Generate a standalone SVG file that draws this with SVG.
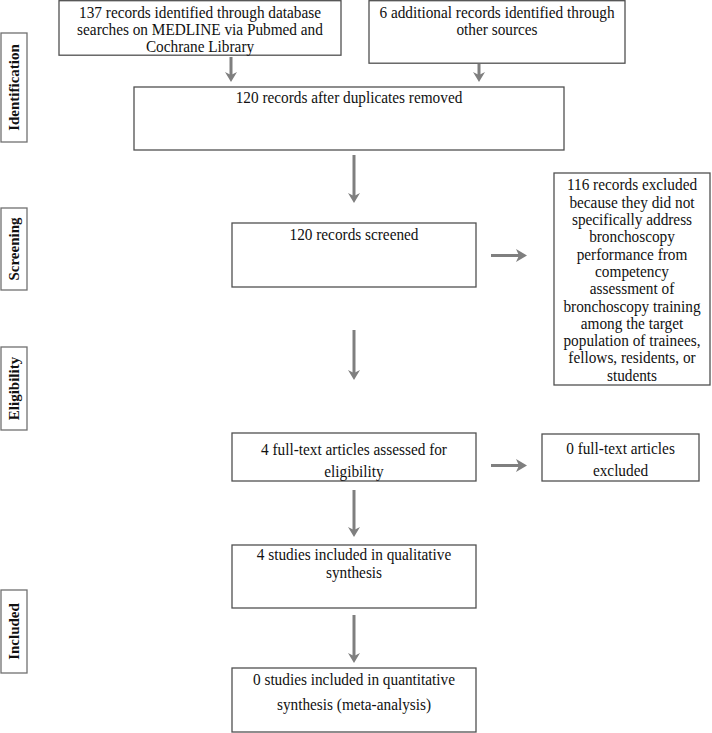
<svg xmlns="http://www.w3.org/2000/svg" width="712" height="733" viewBox="0 0 712 733">
<defs>
<style>
.box{fill:#fff;stroke:#505050;stroke-width:1.3}
.lbl{fill:#fff;stroke:#707070;stroke-width:1.3}
.t{font-family:"Liberation Serif","Times New Roman",serif;font-size:17px;fill:#111;text-anchor:middle}
.b{font-family:"Liberation Serif","Times New Roman",serif;font-size:15px;font-weight:bold;fill:#111;text-anchor:middle}
.arr{stroke:#7f7f7f;stroke-width:3;fill:none}
.harr{stroke:#7f7f7f;stroke-width:4;fill:none}
.head{fill:#7f7f7f}
</style>
</defs>
<g id="label-identification"><rect class="lbl" x="1" y="33" width="26" height="109"/><text class="b" transform="translate(19,87.5) rotate(-90)">Identification</text></g>
<g id="label-screening"><rect class="lbl" x="1" y="208" width="26" height="82"/><text class="b" transform="translate(19,249) rotate(-90)">Screening</text></g>
<g id="label-eligibility"><rect class="lbl" x="1" y="347" width="26" height="83"/><text class="b" transform="translate(19,388.5) rotate(-90)">Eligibility</text></g>
<g id="label-included"><rect class="lbl" x="1" y="590" width="26" height="83"/><text class="b" transform="translate(19,631.5) rotate(-90)">Included</text></g>

<g id="n1"><rect class="box" x="59" y="0.7" width="282" height="54.5"/>
<text class="t" transform="matrix(.9 0 0 1 200 0)" x="0" y="18.5">137 records identified through database</text>
<text class="t" transform="matrix(.9 0 0 1 200 0)" x="0" y="35">searches on MEDLINE via Pubmed and</text>
<text class="t" transform="matrix(.9 0 0 1 200 0)" x="0" y="52">Cochrane Library</text></g>
<g id="n2"><rect class="box" x="369" y="0.7" width="256" height="62.5"/>
<text class="t" transform="matrix(.9 0 0 1 497 0)" x="0" y="18.5">6 additional records identified through</text>
<text class="t" transform="matrix(.9 0 0 1 497 0)" x="0" y="35">other sources</text></g>
<g id="n3"><rect class="box" x="134" y="87" width="430" height="63"/>
<text class="t" transform="matrix(.9 0 0 1 349 0)" x="0" y="103.5">120 records after duplicates removed</text></g>
<g id="n4"><rect class="box" x="232" y="223" width="244" height="64"/>
<text class="t" transform="matrix(.9 0 0 1 354 0)" x="0" y="240.5">120 records screened</text></g>
<g id="n5"><rect class="box" x="554" y="173" width="156" height="212"/>
<text class="t" transform="matrix(.9 0 0 1 632 0)" x="0" y="190.5">116 records excluded</text>
<text class="t" transform="matrix(.9 0 0 1 632 0)" x="0" y="207.8">because they did not</text>
<text class="t" transform="matrix(.9 0 0 1 632 0)" x="0" y="225.1">specifically address</text>
<text class="t" transform="matrix(.9 0 0 1 632 0)" x="0" y="242.4">bronchoscopy</text>
<text class="t" transform="matrix(.9 0 0 1 632 0)" x="0" y="259.7">performance from</text>
<text class="t" transform="matrix(.9 0 0 1 632 0)" x="0" y="277">competency</text>
<text class="t" transform="matrix(.9 0 0 1 632 0)" x="0" y="294.3">assessment of</text>
<text class="t" transform="matrix(.9 0 0 1 632 0)" x="0" y="311.6">bronchoscopy training</text>
<text class="t" transform="matrix(.9 0 0 1 632 0)" x="0" y="328.9">among the target</text>
<text class="t" transform="matrix(.9 0 0 1 632 0)" x="0" y="346.2">population of trainees,</text>
<text class="t" transform="matrix(.9 0 0 1 632 0)" x="0" y="363.5">fellows, residents, or</text>
<text class="t" transform="matrix(.9 0 0 1 632 0)" x="0" y="380.8">students</text></g>
<g id="n6"><rect class="box" x="232" y="433" width="244" height="48"/>
<text class="t" transform="matrix(.9 0 0 1 354 0)" x="0" y="455.5">4 full-text articles assessed for</text>
<text class="t" transform="matrix(.9 0 0 1 354 0)" x="0" y="477.5">eligibility</text></g>
<g id="n7"><rect class="box" x="542" y="434" width="157" height="47"/>
<text class="t" transform="matrix(.9 0 0 1 620.5 0)" x="0" y="454.5">0 full-text articles</text>
<text class="t" transform="matrix(.9 0 0 1 620.5 0)" x="0" y="476.5">excluded</text></g>
<g id="n8"><rect class="box" x="232" y="545" width="244" height="63"/>
<text class="t" transform="matrix(.9 0 0 1 354 0)" x="0" y="560.5">4 studies included in qualitative</text>
<text class="t" transform="matrix(.9 0 0 1 354 0)" x="0" y="578.5">synthesis</text></g>
<g id="n9"><rect class="box" x="232" y="668" width="244" height="64"/>
<text class="t" transform="matrix(.9 0 0 1 354 0)" x="0" y="685.5">0 studies included in quantitative</text>
<text class="t" transform="matrix(.9 0 0 1 354 0)" x="0" y="710.5">synthesis (meta-analysis)</text></g>

<g id="connectors">
<line class="arr" x1="231" y1="57" x2="231" y2="75"/><polygon class="head" points="225,72 231,75 237,72 231,82"/>
<line class="arr" x1="479" y1="64" x2="479" y2="75"/><polygon class="head" points="473,72 479,75 485,72 479,82"/>
<line class="arr" x1="354" y1="155" x2="354" y2="196"/><polygon class="head" points="348,193 354,196 360,193 354,203"/>
<line class="arr" x1="491" y1="255.5" x2="519" y2="255.5"/><polygon class="head" points="516,249 519,255.5 516,262 527,255.5"/>
<line class="arr" x1="354" y1="330" x2="354" y2="373"/><polygon class="head" points="348,370 354,373 360,370 354,380"/>
<line class="arr" x1="491" y1="465.5" x2="519" y2="465.5"/><polygon class="head" points="516,459 519,465.5 516,472 527,465.5"/>
<line class="arr" x1="354" y1="490" x2="354" y2="530"/><polygon class="head" points="348,527 354,530 360,527 354,537"/>
<line class="arr" x1="354" y1="615" x2="354" y2="656"/><polygon class="head" points="348,653 354,656 360,653 354,663"/>
</g>
</svg>
